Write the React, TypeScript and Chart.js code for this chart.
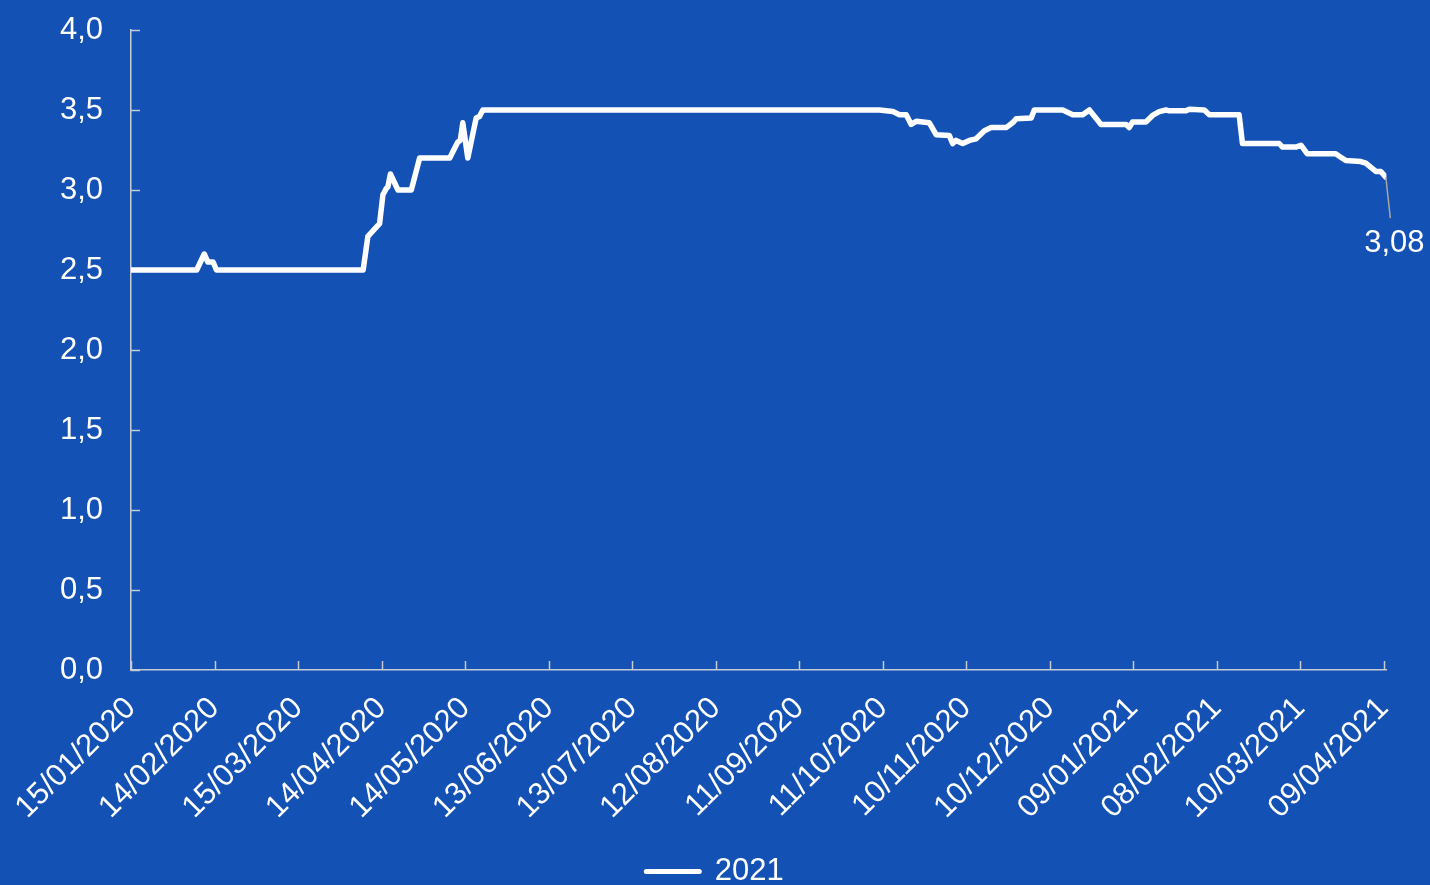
import React, { useEffect, useRef } from 'react';
import { Chart, registerables } from 'chart.js';

Chart.register(...registerables);

// Series start date: 15/01/2020 (day offset 0)
const startYear = 2020;
const startMonthIndex = 0;
const startDay = 15;

// x-axis ticks (day offsets, every 30 days)
const tickDays = [0, 30, 60, 90, 120, 150, 180, 210, 240, 270, 300, 330, 360, 390, 420, 450];
// y-axis ticks
const yTicks = [0, 0.5, 1, 1.5, 2, 2.5, 3, 3.5, 4];

const seriesLabel = '2021';

// Day offsets from 15/01/2020 and values
const dayOffsets = [
  0, 23.6, 26.3, 27.6, 29.5, 30.7, 83.4, 85.1, 89.3, 90.5, 91.7, 92.3, 93.2, 95.9, 100.7, 103.7,
  114.5, 117.4, 118.3, 119.2, 121.0, 124.0, 125.2, 126.4, 268.9, 273.7, 276.1, 278.5, 280.3, 282.1,
  286.8, 289.3, 294.0, 295.2, 296.4, 298.8, 301.2, 303.6, 306.6, 309.0, 314.4, 316.7, 318.0, 323.4,
  324.5, 334.7, 338.3, 341.9, 344.3, 348.5, 357.5, 358.6, 359.8, 364.6, 367.0, 369.4, 371.8, 373.0,
  379.0, 380.2, 385.6, 387.4, 398.1, 399.3, 412.5, 413.7, 418.5, 420.3, 422.6, 432.8, 434.6, 436.4,
  441.8, 443.6, 447.2, 449.0, 450.8,
];
const values = [
  2.5, 2.5, 2.6, 2.55, 2.55, 2.5, 2.5, 2.71, 2.79, 2.97, 3.01, 3.02, 3.1, 3.0, 3.0, 3.2,
  3.2, 3.3, 3.31, 3.42, 3.2, 3.45, 3.46, 3.5, 3.5, 3.49, 3.47, 3.47, 3.41, 3.43,
  3.42, 3.345, 3.34, 3.29, 3.31, 3.29, 3.31, 3.32, 3.37, 3.39, 3.39, 3.42, 3.445, 3.45,
  3.5, 3.5, 3.47, 3.47, 3.5, 3.41, 3.41, 3.39, 3.425, 3.425, 3.466, 3.49, 3.5, 3.495,
  3.495, 3.505, 3.5, 3.47, 3.47, 3.29, 3.29, 3.268, 3.268, 3.28, 3.226, 3.226, 3.205, 3.185,
  3.178, 3.168, 3.116, 3.116, 3.08,
];
const lastValueLabel = '3,08';

const BG = '#1351B4';
const AXIS = '#C5CAD6';
const FONT = "'Liberation Sans', Arial, Helvetica, sans-serif";

function fmtDate(day: number): string {
  const d = new Date(Date.UTC(startYear, startMonthIndex, startDay + Math.round(day)));
  const dd = String(d.getUTCDate()).padStart(2, '0');
  const mm = String(d.getUTCMonth() + 1).padStart(2, '0');
  return `${dd}/${mm}/${d.getUTCFullYear()}`;
}

const innerTicks = {
  id: 'innerTicks',
  beforeDatasetsDraw(chart: any) {
    const { ctx, chartArea, scales } = chart;
    const x = scales.x;
    const y = scales.y;
    ctx.save();
    ctx.strokeStyle = AXIS;
    ctx.lineWidth = 1.5;
    x.ticks.forEach((t: any) => {
      const px = Math.round(x.getPixelForValue(t.value)) + 0.5;
      ctx.beginPath();
      ctx.moveTo(px, chartArea.bottom);
      ctx.lineTo(px, chartArea.bottom - 9);
      ctx.stroke();
    });
    y.ticks.forEach((t: any) => {
      const py = Math.round(y.getPixelForValue(t.value)) + 0.5;
      ctx.beginPath();
      ctx.moveTo(chartArea.left, py);
      ctx.lineTo(chartArea.left + 9, py);
      ctx.stroke();
    });
    ctx.restore();
  },
};

const lastLabel = {
  id: 'lastLabel',
  afterDatasetsDraw(chart: any) {
    const meta = chart.getDatasetMeta(0);
    const pt = meta.data[meta.data.length - 1];
    if (!pt) return;
    const { ctx } = chart;
    ctx.save();
    ctx.strokeStyle = '#A6A6A6';
    ctx.lineWidth = 1.5;
    ctx.beginPath();
    ctx.moveTo(pt.x, pt.y);
    ctx.lineTo(pt.x + 4.5, pt.y + 41);
    ctx.stroke();
    ctx.fillStyle = '#FFFFFF';
    ctx.font = `31px ${FONT}`;
    ctx.textAlign = 'center';
    ctx.textBaseline = 'middle';
    ctx.fillText(lastValueLabel, pt.x + 8.5, pt.y + 66);
    ctx.restore();
  },
};

export default function App() {
  const ref = useRef<HTMLCanvasElement>(null);

  useEffect(() => {
    const canvas = ref.current;
    if (!canvas) return;
    const chart = new Chart(canvas, {
      type: 'line',
      data: {
        datasets: [
          {
            label: seriesLabel,
            data: dayOffsets.map((d, i) => ({ x: d, y: values[i] })),
            borderColor: '#FFFFFF',
            backgroundColor: '#FFFFFF',
            borderWidth: 5.5,
            pointRadius: 0,
            pointHoverRadius: 0,
            tension: 0,
            borderJoinStyle: 'round',
            borderCapStyle: 'round',
          },
        ],
      },
      options: {
        responsive: false,
        animation: false,
        devicePixelRatio: 1,
        layout: { padding: { top: 30, right: 43, left: 43, bottom: 0 } },
        plugins: {
          tooltip: { enabled: false },
          legend: {
            position: 'bottom',
            labels: {
              usePointStyle: true,
              pointStyleWidth: 53,
              padding: 10,
              color: '#FFFFFF',
              font: { family: FONT, size: 31 },
              generateLabels: () => [
                {
                  text: seriesLabel,
                  fillStyle: '#FFFFFF',
                  strokeStyle: '#FFFFFF',
                  lineWidth: 5,
                  lineCap: 'round',
                  pointStyle: 'line',
                  hidden: false,
                  datasetIndex: 0,
                  fontColor: '#FFFFFF',
                },
              ],
            },
          },
        },
        scales: {
          x: {
            type: 'linear',
            min: 0,
            max: 451,
            afterBuildTicks: (s: any) => {
              s.ticks = tickDays.map((v) => ({ value: v }));
            },
            afterFit: (s: any) => {
              s.height = 176;
            },
            grid: { display: false, drawTicks: false, tickLength: 0 },
            border: { display: true, color: AXIS, width: 1.5 },
            ticks: {
              autoSkip: false,
              maxRotation: 45,
              minRotation: 45,
              padding: 20,
              color: '#FFFFFF',
              font: { family: FONT, size: 31 },
              callback: (v: any) => fmtDate(Number(v)),
            },
          },
          y: {
            type: 'linear',
            min: 0,
            max: 4,
            afterBuildTicks: (s: any) => {
              s.ticks = yTicks.map((v) => ({ value: v }));
            },
            afterFit: (s: any) => {
              s.width = 88;
              s.paddingTop = 0;
              s.paddingBottom = 0;
            },
            grid: { display: false, drawTicks: false, tickLength: 0 },
            border: { display: true, color: AXIS, width: 1.5 },
            ticks: {
              padding: 28,
              color: '#FFFFFF',
              font: { family: FONT, size: 31 },
              callback: (v: any) => Number(v).toFixed(1).replace('.', ','),
            },
          },
        },
      },
      plugins: [innerTicks, lastLabel],
    } as any);
    return () => chart.destroy();
  }, []);

  return (
    <div
      style={{
        position: 'absolute',
        left: 0,
        top: 0,
        width: 1430,
        height: 885,
        overflow: 'hidden',
        background: BG,
      }}
    >
      <canvas ref={ref} width={1430} height={897} style={{ display: 'block' }} />
    </div>
  );
}
